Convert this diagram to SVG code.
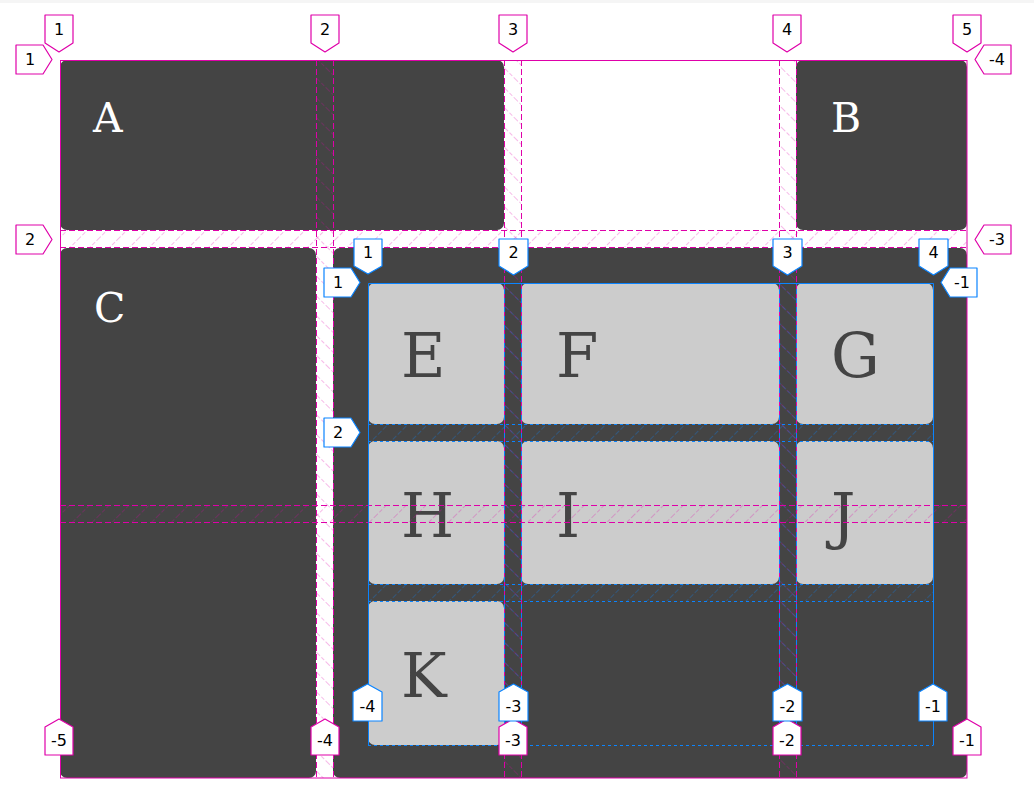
<svg xmlns="http://www.w3.org/2000/svg" width="1034" height="802" viewBox="0 0 1034 802">
<style>
.dk{fill:#444444}
.lt{fill:#cccccc}
.lo{font-family:"DejaVu Serif",serif;font-size:41px;fill:#ffffff}
.li{font-family:"DejaVu Serif",serif;font-size:61px;fill:#444444}
.mL{stroke:#DF00A9;stroke-width:1;fill:none;stroke-dasharray:6 3}
.mS{stroke:#DF00A9;stroke-width:1;fill:none}
.bL{stroke:#0A84FF;stroke-width:1;fill:none;stroke-dasharray:3 3}
.bD{stroke:#0A84FF;stroke-width:1;fill:none;stroke-dasharray:5 4;stroke-dashoffset:3}
.bS{stroke:#0A84FF;stroke-width:1;fill:none}
.tm{fill:#ffffff;stroke:#DF00A9;stroke-width:1.2;stroke-linejoin:round}
.tb{fill:#ffffff;stroke:#0A84FF;stroke-width:1.2;stroke-linejoin:round}
.tt{font-family:"DejaVu Sans",sans-serif;font-size:16px;fill:#000000;text-anchor:middle}
</style>
<defs>
<pattern id="hmH" width="14" height="14" patternUnits="userSpaceOnUse" patternTransform="rotate(45)"><line x1="0" y1="0" x2="0" y2="14" stroke="#DF00A9" stroke-opacity="0.45" stroke-width="1.2" stroke-dasharray="4 2"/></pattern>
<pattern id="hmV" width="14" height="14" patternUnits="userSpaceOnUse" patternTransform="rotate(-45)"><line x1="0" y1="0" x2="0" y2="14" stroke="#DF00A9" stroke-opacity="0.45" stroke-width="1.2" stroke-dasharray="4 2"/></pattern>
<pattern id="hbH" width="14" height="14" patternUnits="userSpaceOnUse" patternTransform="rotate(45)"><line x1="0" y1="0" x2="0" y2="14" stroke="#0A84FF" stroke-opacity="0.5" stroke-width="1.2" stroke-dasharray="5 2"/></pattern>
<pattern id="hbV" width="14" height="14" patternUnits="userSpaceOnUse" patternTransform="rotate(-45)"><line x1="0" y1="0" x2="0" y2="14" stroke="#0A84FF" stroke-opacity="0.5" stroke-width="1.2" stroke-dasharray="5 2"/></pattern>
</defs>
<rect x="0" y="0" width="1034" height="802" fill="#ffffff"/>
<rect x="0" y="0" width="1034" height="3" fill="#f5f5f5"/>

<g id="A"><rect class="dk" x="60" y="60" width="444" height="170" rx="7"/><text class="lo" x="93" y="132">A</text></g>
<g id="B"><rect class="dk" x="796" y="60" width="171" height="170" rx="7"/><text class="lo" x="831" y="132">B</text></g>
<g id="C"><rect class="dk" x="60" y="248" width="256" height="530" rx="7"/><text class="lo" x="94" y="322">C</text></g>
<g id="D"><rect class="dk" x="333" y="248" width="634" height="530" rx="7"/></g>
<g id="E"><rect class="lt" x="368" y="283" width="136" height="141" rx="7"/><text class="li" x="401" y="377">E</text></g>
<g id="F"><rect class="lt" x="521" y="283" width="258" height="141" rx="7"/><text class="li" x="556" y="377">F</text></g>
<g id="G"><rect class="lt" x="796" y="283" width="137" height="141" rx="7"/><text class="li" x="831" y="377">G</text></g>
<g id="H"><rect class="lt" x="368" y="441" width="136" height="143" rx="7"/><text class="li" x="401" y="537">H</text></g>
<g id="I"><rect class="lt" x="521" y="441" width="258" height="143" rx="7"/><text class="li" x="556" y="537">I</text></g>
<g id="J"><rect class="lt" x="796" y="441" width="137" height="143" rx="7"/><text class="li" x="831" y="537">J</text></g>
<g id="K"><rect class="lt" x="368" y="601" width="136" height="144" rx="7"/><text class="li" x="401" y="697">K</text></g>

<g id="connectors">
<g id="outer-gaps">
<rect x="316" y="60" width="17" height="718" fill="url(#hmV)"/>
<rect x="504" y="60" width="17" height="718" fill="url(#hmV)"/>
<rect x="779" y="60" width="17" height="718" fill="url(#hmV)"/>
<rect x="60" y="230" width="907" height="17" fill="url(#hmH)"/>
<rect x="60" y="505" width="907" height="17" fill="url(#hmH)"/>
</g>
<g id="inner-gaps">
<rect x="504" y="283" width="17" height="462" fill="url(#hbV)"/>
<rect x="779" y="283" width="17" height="462" fill="url(#hbV)"/>
<rect x="368" y="424" width="565" height="17" fill="url(#hbH)"/>
<rect x="368" y="584" width="565" height="17" fill="url(#hbH)"/>
</g>
<g id="outer-lines">
<rect class="mS" x="60.5" y="60.5" width="906.5" height="717.5"/>
<path class="mL" d="M316.5 60V778M333.5 60V778M504.5 60V778M521.5 60V778M779.5 60V778M796.5 60V778"/>
<path class="mL" d="M60 230.5H967M60 247.5H967M60 505.5H967M60 522.5H967"/>
</g>
<g id="inner-lines">
<path class="bS" d="M368.5 283.5H933.5M368.5 283.5V745.5M933.5 283.5V745.5"/>
<path class="bL" d="M368 424.5H933M368 441.5H933M368 584.5H933M368 601.5H933M368 745.5H933"/>
<path class="bD" d="M504.5 283V745M521.5 283V745M779.5 283V745M796.5 283V745"/>
</g>
</g>

<g id="outer-labels">
<g><path class="tm" d="M45 15H73V43L59 52L45 43Z"/><text class="tt" x="59" y="35">1</text></g>
<g><path class="tm" d="M311 15H339V43L325 52L311 43Z"/><text class="tt" x="325" y="35">2</text></g>
<g><path class="tm" d="M499 15H527V43L513 52L499 43Z"/><text class="tt" x="513" y="35">3</text></g>
<g><path class="tm" d="M773 15H801V43L787 52L773 43Z"/><text class="tt" x="787" y="35">4</text></g>
<g><path class="tm" d="M953 15H981V43L967 52L953 43Z"/><text class="tt" x="967" y="35">5</text></g>
<g><path class="tm" d="M16 45H43L52 59.5L43 74H16Z"/><text class="tt" x="30" y="65">1</text></g>
<g><path class="tm" d="M16 225H43L52 239.5L43 254H16Z"/><text class="tt" x="30" y="245">2</text></g>
<g><path class="tm" d="M1011 45H984L975 59.5L984 74H1011Z"/><text class="tt" x="997" y="65">-4</text></g>
<g><path class="tm" d="M1011 225H984L975 239.5L984 254H1011Z"/><text class="tt" x="997" y="245">-3</text></g>
<g><path class="tm" d="M45 755H73V727L59 719L45 727Z"/><text class="tt" x="59" y="746">-5</text></g>
<g><path class="tm" d="M311 755H339V727L325 719L311 727Z"/><text class="tt" x="325" y="746">-4</text></g>
<g><path class="tm" d="M499 755H527V727L513 719L499 727Z"/><text class="tt" x="513" y="746">-3</text></g>
<g><path class="tm" d="M773 755H801V727L787 719L773 727Z"/><text class="tt" x="787" y="746">-2</text></g>
<g><path class="tm" d="M953 755H981V727L967 719L953 727Z"/><text class="tt" x="967" y="746">-1</text></g>
</g>

<g id="inner-labels">
<g><path class="tb" d="M354 239H382V266L368 274L354 266Z"/><text class="tt" x="368" y="258">1</text></g>
<g><path class="tb" d="M499 239H528V266L513.5 275L499 266Z"/><text class="tt" x="513.5" y="258">2</text></g>
<g><path class="tb" d="M773 239H802V266L787.5 275L773 266Z"/><text class="tt" x="787.5" y="258">3</text></g>
<g><path class="tb" d="M919 239H948V266L933.5 275L919 266Z"/><text class="tt" x="933.5" y="258">4</text></g>
<g><path class="tb" d="M324 268H351L360 282.5L351 297H324Z"/><text class="tt" x="338" y="288">1</text></g>
<g><path class="tb" d="M324 418H351L360 432.5L351 447H324Z"/><text class="tt" x="338" y="438">2</text></g>
<g><path class="tb" d="M977 268H950L941 282.5L950 297H977Z"/><text class="tt" x="962" y="288">-1</text></g>
<g><path class="tb" d="M353 721H382V692L367.5 684L353 692Z"/><text class="tt" x="367.5" y="712">-4</text></g>
<g><path class="tb" d="M499 721H528V692L513.5 684L499 692Z"/><text class="tt" x="513.5" y="712">-3</text></g>
<g><path class="tb" d="M773 721H802V692L787.5 684L773 692Z"/><text class="tt" x="787.5" y="712">-2</text></g>
<g><path class="tb" d="M919 721H947V692L933 684L919 692Z"/><text class="tt" x="933" y="712">-1</text></g>
</g>
</svg>
